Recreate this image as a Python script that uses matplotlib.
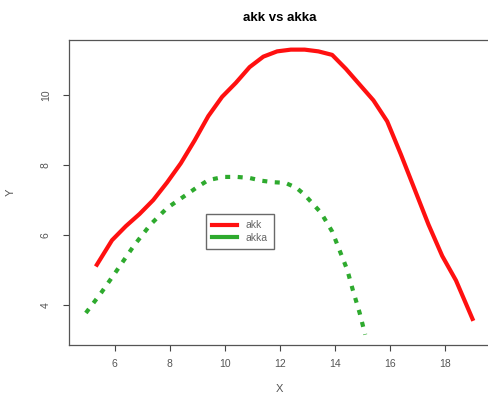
import matplotlib
matplotlib.use("Agg")
import matplotlib.pyplot as plt

plt.rcParams["font.family"] = ["Liberation Sans", "DejaVu Sans"]

# Dados
akk_x = [5.35, 5.9, 6.4, 6.9, 7.4, 7.9, 8.4, 8.9, 9.4, 9.9, 10.4, 10.9, 11.4, 11.9,
         12.4, 12.9, 13.4, 13.9, 14.4, 14.9, 15.4, 15.9, 16.4, 16.9, 17.4, 17.9, 18.4, 19.0]
akk_y = [5.15, 5.85, 6.25, 6.6, 7.0, 7.5, 8.05, 8.7, 9.4, 9.95, 10.35, 10.8, 11.1, 11.25,
         11.3, 11.3, 11.25, 11.15, 10.75, 10.3, 9.85, 9.25, 8.3, 7.3, 6.3, 5.4, 4.7, 3.6]

akka_x = [4.95, 5.5, 6.0, 6.7, 7.3, 7.9, 8.6, 9.0, 9.4, 9.95, 10.45, 10.9, 11.35, 11.75,
          12.2, 12.6, 12.9, 13.5, 13.9, 14.2, 14.45, 14.65, 14.9, 15.1]
akka_y = [3.77, 4.34, 4.9, 5.7, 6.3, 6.77, 7.15, 7.37, 7.57, 7.66, 7.66, 7.63, 7.55, 7.51,
          7.49, 7.35, 7.15, 6.63, 6.1, 5.5, 5.0, 4.43, 3.77, 3.15]

x_ticks = [6, 8, 10, 12, 14, 16, 18]
y_ticks = [4, 6, 8, 10]

fig = plt.figure(figsize=(4.88, 3.94), dpi=100)
ax = fig.add_axes([0.141, 0.124, 0.865, 0.774])

ax.plot(akk_x, akk_y, color="#ff1010", lw=3.0, label="akk")
ax.plot(akka_x, akka_y, color="#2eaa2e", lw=3.0, linestyle=(0, (1.2, 1.8)), label="akka")

ax.set_xlim(4.33, 19.67)
ax.set_ylim(2.85, 11.57)
ax.set_xticks(x_ticks)
ax.set_yticks(y_ticks)
ax.tick_params(direction="out", length=4, colors="#444444", labelsize=7.5,
               labelcolor="#555555")
ax.tick_params(axis="x", pad=6)
ax.tick_params(axis="y", pad=9)
for lab in ax.get_yticklabels():
    lab.set_rotation(90)
    lab.set_va("center")
for s in ax.spines.values():
    s.set_color("#555555")
    s.set_linewidth(0.9)

ax.set_title("akk vs akka", fontsize=9.5, fontweight="bold", pad=14)
ax.set_xlabel("X", fontsize=8, color="#555555", labelpad=11)
ax.set_ylabel("Y", fontsize=8, color="#555555", labelpad=18)

leg = ax.legend(loc="upper left", bbox_to_anchor=(0.325, 0.43), fontsize=7.5,
                fancybox=False, edgecolor="#444444", handlelength=2.4,
                borderpad=0.6, labelspacing=0.25, borderaxespad=0)
for t in leg.get_texts():
    t.set_color("#666666")
leg.get_lines()[1].set_linestyle("-")

fig.savefig("out.png", dpi=100)
